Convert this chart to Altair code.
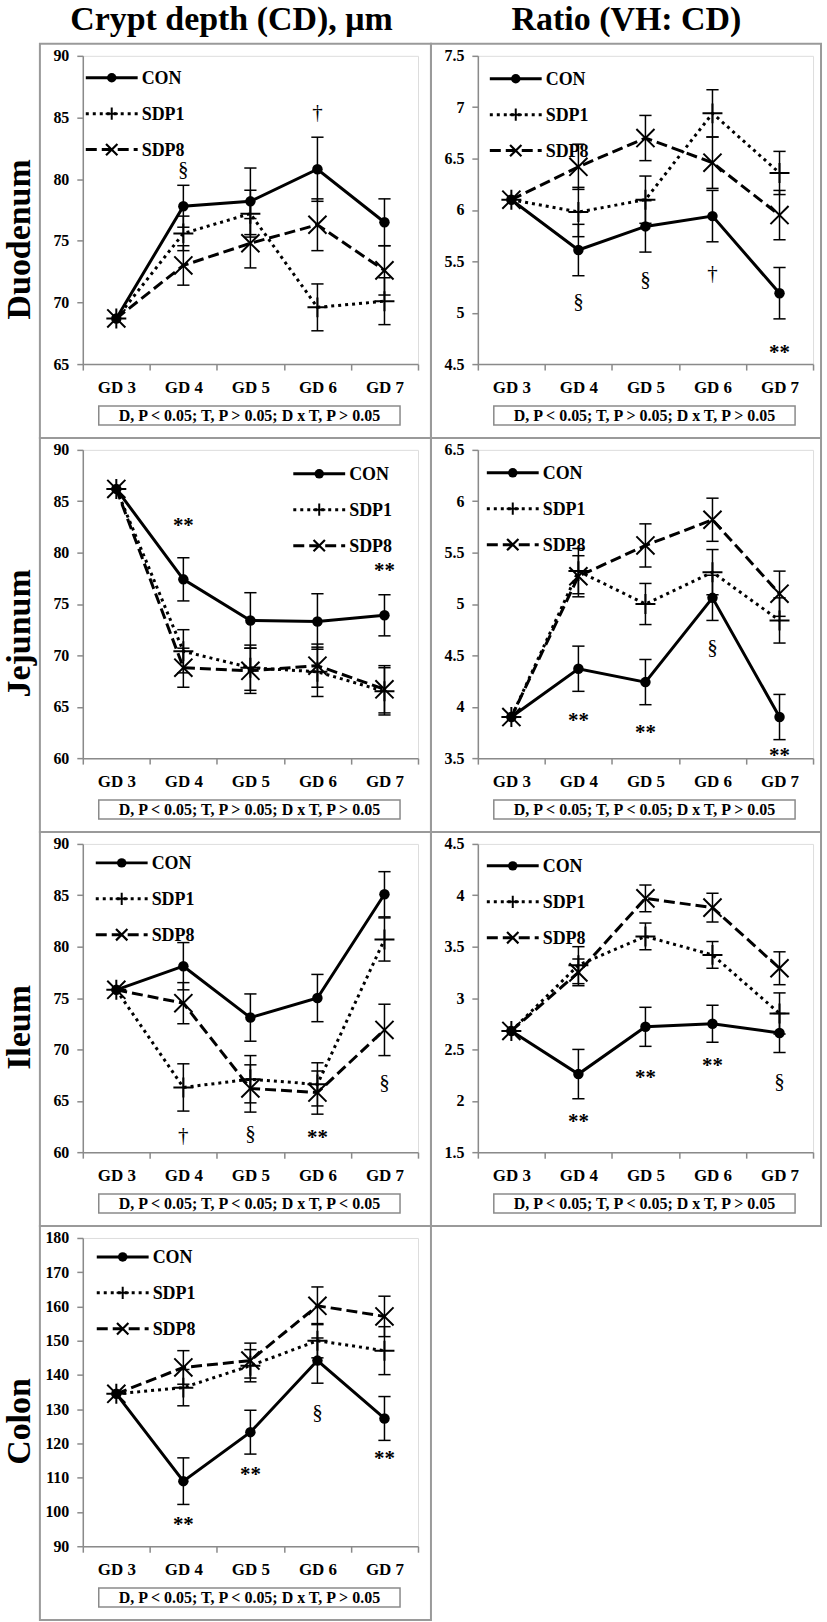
import altair as alt
import pandas as pd

FONT = "Liberation Serif"
days = ["GD 3", "GD 4", "GD 5", "GD 6", "GD 7"]
series_names = ["CON", "SDP1", "SDP8"]

# ---- Duodenum, crypt depth ----
duo_cd_con = [68.7, 77.8, 78.2, 80.8, 76.5]
duo_cd_con_se = [0, 1.7, 2.7, 2.6, 1.9]
duo_cd_sdp1 = [68.7, 75.6, 77.2, 69.6, 70.1]
duo_cd_sdp1_se = [0, 1.4, 1.9, 1.9, 1.9]
duo_cd_sdp8 = [68.7, 73.0, 74.8, 76.3, 72.6]
duo_cd_sdp8_se = [0, 1.6, 2.0, 2.1, 2.0]
duo_cd_ann = [("GD 4", 80.7, "§"), ("GD 6", 85.4, "†")]
# ---- Duodenum, ratio ----
duo_r_con = [6.1, 5.61, 5.84, 5.94, 5.19]
duo_r_con_se = [0, 0.25, 0.25, 0.25, 0.25]
duo_r_sdp1 = [6.1, 5.98, 6.1, 6.94, 6.36]
duo_r_sdp1_se = [0, 0.24, 0.23, 0.23, 0.21]
duo_r_sdp8 = [6.1, 6.42, 6.7, 6.46, 5.95]
duo_r_sdp8_se = [0, 0.22, 0.22, 0.25, 0.24]
duo_r_ann = [("GD 4", 5.1, "§"), ("GD 5", 5.32, "§"), ("GD 6", 5.38, "†"), ("GD 7", 4.65, "**")]
# ---- Jejunum, crypt depth ----
jej_cd_con = [86.2, 77.4, 73.4, 73.3, 73.9]
jej_cd_con_se = [0, 2.1, 2.7, 2.7, 2.0]
jej_cd_sdp1 = [86.2, 70.4, 68.8, 68.4, 66.5]
jej_cd_sdp1_se = [0, 2.1, 2.2, 2.4, 2.3]
jej_cd_sdp8 = [86.2, 68.8, 68.5, 69.0, 66.7]
jej_cd_sdp8_se = [0, 1.9, 2.2, 2.1, 2.3]
jej_cd_ann = [("GD 4", 83.0, "**"), ("GD 7", 78.6, "**")]
# ---- Jejunum, ratio ----
jej_r_con = [3.9, 4.37, 4.24, 5.06, 3.9]
jej_r_con_se = [0, 0.22, 0.22, 0.22, 0.22]
jej_r_sdp1 = [3.9, 5.32, 5.0, 5.31, 4.84]
jej_r_sdp1_se = [0, 0.22, 0.2, 0.22, 0.22]
jej_r_sdp8 = [3.9, 5.27, 5.57, 5.82, 5.1]
jej_r_sdp8_se = [0, 0.2, 0.21, 0.21, 0.22]
jej_r_ann = [("GD 4", 3.9, "**"), ("GD 5", 3.78, "**"), ("GD 6", 4.57, "§"), ("GD 7", 3.56, "**")]
# ---- Ileum, crypt depth ----
ile_cd_con = [75.8, 78.1, 73.1, 75.0, 85.1]
ile_cd_con_se = [0, 2.3, 2.3, 2.3, 2.2]
ile_cd_sdp1 = [75.8, 66.3, 67.1, 66.6, 80.7]
ile_cd_sdp1_se = [0, 2.3, 2.3, 2.1, 2.1]
ile_cd_sdp8 = [75.8, 74.5, 66.2, 65.8, 71.9]
ile_cd_sdp8_se = [0, 2.0, 2.3, 2.1, 2.5]
ile_cd_ann = [("GD 4", 61.6, "†"), ("GD 5", 61.8, "§"), ("GD 6", 61.8, "**"), ("GD 7", 66.7, "§")]
# ---- Ileum, ratio ----
ile_r_con = [2.68, 2.26, 2.72, 2.75, 2.66]
ile_r_con_se = [0, 0.24, 0.19, 0.18, 0.19]
ile_r_sdp1 = [2.68, 3.32, 3.6, 3.42, 2.85]
ile_r_sdp1_se = [0, 0.18, 0.13, 0.13, 0.2]
ile_r_sdp8 = [2.68, 3.25, 3.97, 3.88, 3.29]
ile_r_sdp8_se = [0, 0.13, 0.13, 0.14, 0.16]
ile_r_ann = [("GD 4", 1.83, "**"), ("GD 5", 2.26, "**"), ("GD 6", 2.38, "**"), ("GD 7", 2.18, "§")]
# ---- Colon, crypt depth ----
col_cd_con = [134.5, 109.0, 123.3, 144.2, 127.3]
col_cd_con_se = [0, 6.8, 6.4, 6.6, 6.4]
col_cd_sdp1 = [134.5, 136.3, 142.7, 150.0, 147.1]
col_cd_sdp1_se = [0, 5.3, 4.7, 5.0, 7.0]
col_cd_sdp8 = [134.5, 142.2, 144.2, 160.2, 157.1]
col_cd_sdp8_se = [0, 4.9, 5.1, 5.5, 5.9]
col_cd_ann = [("GD 4", 97.3, "**"), ("GD 5", 111.9, "**"), ("GD 6", 129.0, "§"), ("GD 7", 116.5, "**")]

stat_a = "D, P < 0.05; T, P > 0.05; D x T, P > 0.05"
stat_b = "D, P < 0.05; T, P < 0.05; D x T, P > 0.05"
stat_c = "D, P < 0.05; T, P < 0.05; D x T, P < 0.05"

ticks_cd = [60, 65, 70, 75, 80, 85, 90]
ticks_duo_cd = [65, 70, 75, 80, 85, 90]
ticks_duo_r = [4.5, 5, 5.5, 6, 6.5, 7, 7.5]
ticks_jej_r = [3.5, 4, 4.5, 5, 5.5, 6, 6.5]
ticks_ile_r = [1.5, 2, 2.5, 3, 3.5, 4, 4.5]
ticks_col = [90, 100, 110, 120, 130, 140, 150, 160, 170, 180]

PW, PH = 336, 309
PLUS = "M-1,0L1,0M0,-1L0,1"
CROSS = "M-1,-1L1,1M-1,1L1,-1"
CAP = "M-1,0L1,0"
AXC = "#8a8a8a"

line_style = {
    "CON": dict(strokeWidth=3),
    "SDP1": dict(strokeWidth=3, strokeDash=[3, 4]),
    "SDP8": dict(strokeWidth=3, strokeDash=[11, 5]),
}
point_style = {
    "CON": dict(shape="circle", filled=True, size=110),
    "SDP1": dict(shape=PLUS, filled=False, size=400, strokeWidth=2),
    "SDP8": dict(shape=CROSS, filled=False, size=330, strokeWidth=2),
}
legend_point = {
    "CON": dict(shape="circle", filled=True, size=90),
    "SDP1": dict(shape=PLUS, filled=False, size=150, strokeWidth=2),
    "SDP8": dict(shape=CROSS, filled=False, size=130, strokeWidth=2.2),
}

one = pd.DataFrame({"a": [0]})


def make_panel(vals, ses, domain, ticks, ann, stat, legend_xy, col, row_label=None,
               col_title=None, canvas=False):
    recs = []
    for s, vv, ee in zip(series_names, vals, ses):
        for d, v, e in zip(days, vv, ee):
            recs.append({"day": d, "series": s, "value": v, "lo": v - e, "hi": v + e, "se": e})
    df = pd.DataFrame(recs)

    xscale = alt.Scale(type="band", domain=days, paddingInner=0, paddingOuter=0)
    xaxis = alt.Axis(title=None, labelAngle=0, tickBand="extent", grid=False,
                     labelFont=FONT, labelFontSize=17, labelFontWeight="bold",
                     labelColor="black", domainColor=AXC, tickColor=AXC,
                     domainWidth=1.5, tickWidth=1.5, tickSize=6, labelPadding=9)
    yscale = alt.Scale(domain=domain, nice=False, zero=False)
    yaxis = alt.Axis(title=None, values=ticks, format="~r", grid=False,
                     labelFont=FONT, labelFontSize=16, labelFontWeight="bold",
                     labelColor="black", domainColor=AXC, tickColor=AXC,
                     domainWidth=1.5, tickWidth=1.5, tickSize=6, labelPadding=8)

    def X():
        return alt.X("day:N", sort=days, scale=xscale, axis=xaxis)

    def Y(f):
        return alt.Y(f + ":Q", scale=yscale, axis=yaxis)

    base = alt.Chart(df)
    layers = []

    if canvas:
        layers.append(alt.Chart(one).mark_rect(opacity=0).encode(
            x=alt.value(-82), x2=alt.value(745), y=alt.value(-53), y2=alt.value(1569)))

    bx0, bx1 = (-43, 349) if col == 0 else (-47, 344)
    layers.append(alt.Chart(one).mark_rect(filled=False, stroke="#9a9a9a", strokeWidth=2).encode(
        x=alt.value(bx0), x2=alt.value(bx1), y=alt.value(-12), y2=alt.value(383)))

    # statistics box
    layers.append(alt.Chart(one).mark_rect(fill="white", stroke="#8a8a8a", strokeWidth=1.5).encode(
        x=alt.value(16), x2=alt.value(318), y=alt.value(351), y2=alt.value(370)))
    layers.append(alt.Chart(one).mark_text(text=stat, font=FONT, fontSize=16, fontWeight="bold",
                                           color="black", align="center", baseline="middle").encode(
        x=alt.value(167), y=alt.value(361)))

    errs = base.transform_filter("datum.se > 0")
    layers.append(errs.mark_rule(color="black", strokeWidth=1.5).encode(x=X(), y=Y("lo"), y2="hi:Q"))
    layers.append(errs.mark_point(shape=CAP, size=150, filled=False, strokeWidth=1.5,
                                  color="black", opacity=1).encode(x=X(), y=Y("lo")))
    layers.append(errs.mark_point(shape=CAP, size=150, filled=False, strokeWidth=1.5,
                                  color="black", opacity=1).encode(x=X(), y=Y("hi")))

    for s in series_names:
        sb = base.transform_filter(alt.datum.series == s)
        layers.append(sb.mark_line(color="black", **line_style[s]).encode(x=X(), y=Y("value")))
    for s in series_names:
        sb = base.transform_filter(alt.datum.series == s)
        layers.append(sb.mark_point(color="black", opacity=1, **point_style[s]).encode(
            x=X(), y=Y("value")))

    adf = pd.DataFrame(ann, columns=["day", "y", "sym"])
    stars = adf[adf["sym"] == "**"]
    others = adf[adf["sym"] != "**"]
    if len(stars):
        layers.append(alt.Chart(stars).mark_text(font=FONT, fontSize=21, fontWeight="bold",
                                                 color="black", baseline="middle", dy=4).encode(
            x=alt.X("day:N", sort=days, scale=xscale, axis=xaxis), y=Y("y"), text="sym:N"))
    if len(others):
        layers.append(alt.Chart(others).mark_text(font=FONT, fontSize=21, color="black",
                                                  baseline="middle").encode(
            x=alt.X("day:N", sort=days, scale=xscale, axis=xaxis), y=Y("y"), text="sym:N"))

    # legend
    lx, ly = legend_xy
    for i, s in enumerate(series_names):
        yy = ly + i * 36
        layers.append(alt.Chart(one).mark_rule(color="black", **line_style[s]).encode(
            x=alt.value(lx), x2=alt.value(lx + 52), y=alt.value(yy)))
        layers.append(alt.Chart(one).mark_point(color="black", opacity=1, **legend_point[s]).encode(
            x=alt.value(lx + 26), y=alt.value(yy)))
        layers.append(alt.Chart(one).mark_text(text=s, font=FONT, fontSize=18, fontWeight="bold",
                                               color="black", align="left", baseline="middle").encode(
            x=alt.value(lx + 56), y=alt.value(yy + 1)))

    if row_label:
        layers.append(alt.Chart(one).mark_text(text=row_label, font=FONT, fontSize=34,
                                               fontWeight="bold", color="black", angle=270,
                                               align="center", baseline="middle").encode(
            x=alt.value(-63), y=alt.value(184)))
    if col_title:
        layers.append(alt.Chart(one).mark_text(text=col_title, font=FONT, fontSize=34,
                                               fontWeight="bold", color="black",
                                               align="center", baseline="alphabetic").encode(
            x=alt.value(149), y=alt.value(-26)))

    return alt.layer(*layers).properties(width=PW, height=PH)


panels = [
    make_panel([duo_cd_con, duo_cd_sdp1, duo_cd_sdp8], [duo_cd_con_se, duo_cd_sdp1_se, duo_cd_sdp8_se],
               [65, 90], ticks_duo_cd, duo_cd_ann, stat_a, (3, 22), 0, row_label="Duodenum",
               col_title="Crypt depth (CD), μm", canvas=True),
    make_panel([duo_r_con, duo_r_sdp1, duo_r_sdp8], [duo_r_con_se, duo_r_sdp1_se, duo_r_sdp8_se],
               [4.5, 7.5], ticks_duo_r, duo_r_ann, stat_a, (12, 23), 1, col_title="Ratio (VH: CD)"),
    make_panel([jej_cd_con, jej_cd_sdp1, jej_cd_sdp8], [jej_cd_con_se, jej_cd_sdp1_se, jej_cd_sdp8_se],
               [60, 90], ticks_cd, jej_cd_ann, stat_a, (211, 24), 0, row_label="Jejunum"),
    make_panel([jej_r_con, jej_r_sdp1, jej_r_sdp8], [jej_r_con_se, jej_r_sdp1_se, jej_r_sdp8_se],
               [3.5, 6.5], ticks_jej_r, jej_r_ann, stat_b, (9, 23), 1),
    make_panel([ile_cd_con, ile_cd_sdp1, ile_cd_sdp8], [ile_cd_con_se, ile_cd_sdp1_se, ile_cd_sdp8_se],
               [60, 90], ticks_cd, ile_cd_ann, stat_c, (13, 19), 0, row_label="Ileum"),
    make_panel([ile_r_con, ile_r_sdp1, ile_r_sdp8], [ile_r_con_se, ile_r_sdp1_se, ile_r_sdp8_se],
               [1.5, 4.5], ticks_ile_r, ile_r_ann, stat_b, (9, 22), 1),
    make_panel([col_cd_con, col_cd_sdp1, col_cd_sdp8], [col_cd_con_se, col_cd_sdp1_se, col_cd_sdp8_se],
               [90, 180], ticks_col, col_cd_ann, stat_b, (14, 19), 0, row_label="Colon"),
]

chart = alt.concat(*panels, columns=2, spacing={"row": 86, "column": 60},
                   bounds="flush", padding=0).configure_view(strokeWidth=0).configure(
    background="white")

chart.save("out.html", embed_options={"renderer": "svg", "actions": False})
